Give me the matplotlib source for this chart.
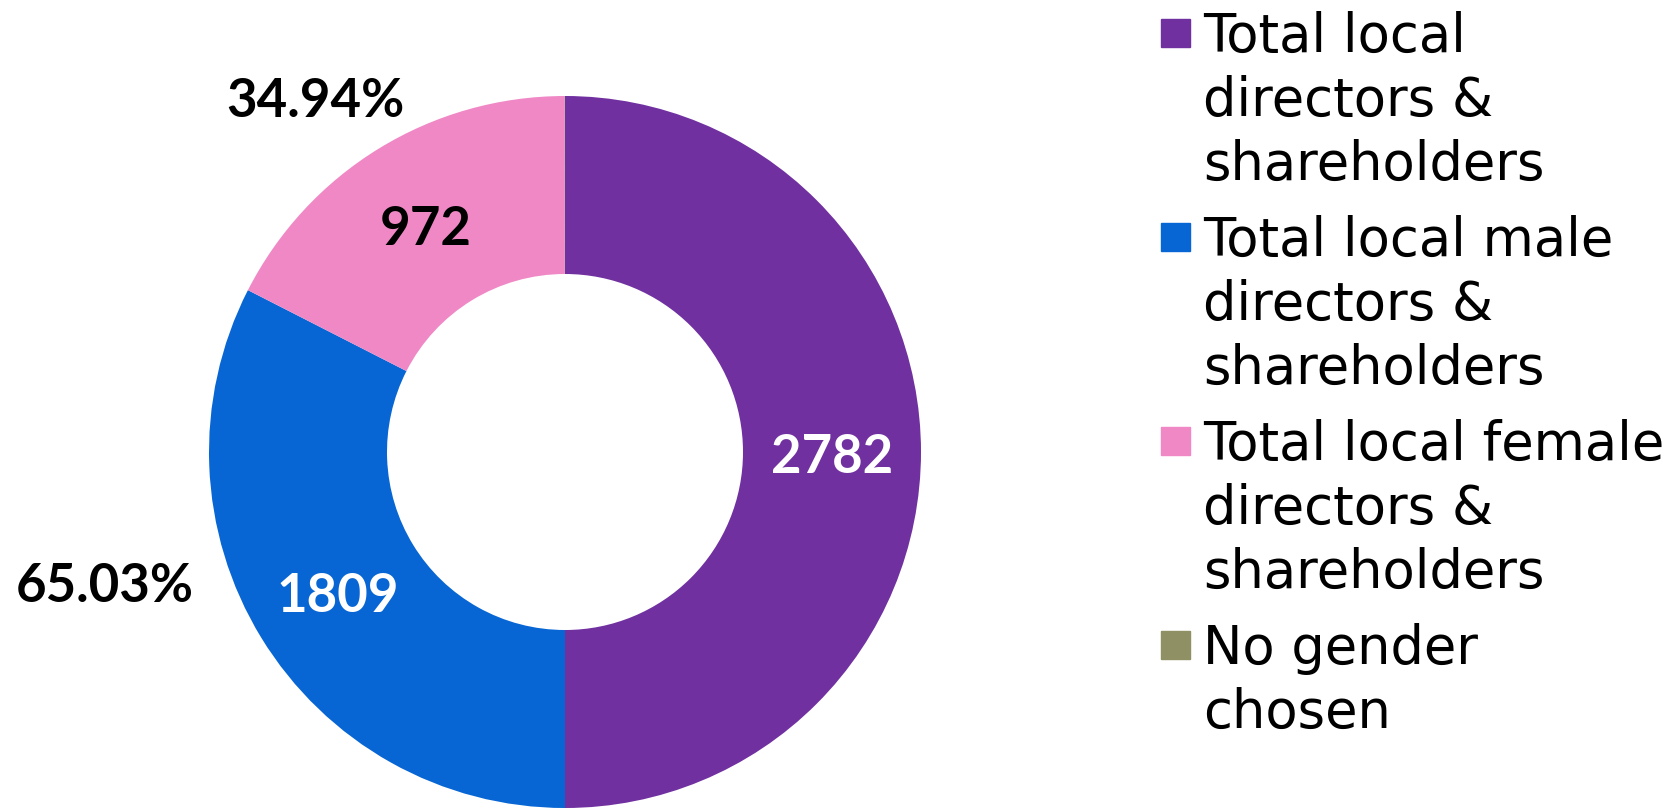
import numpy as np
import matplotlib
matplotlib.use('Agg')
import matplotlib.pyplot as plt
from matplotlib.patches import Rectangle

matplotlib.rc('font', family='DejaVu Sans')

categories = ['Total local\ndirectors &\nshareholders',
              'Total local male\ndirectors &\nshareholders',
              'Total local female\ndirectors &\nshareholders',
              'No gender\nchosen']
values = [2782, 1809, 972, 1]
colors = ['#7030A0', '#0766D3', '#F088C6', '#8F9064']
label_colors = ['white', 'white', 'black', 'black']

# share of male / female in the local total
pct_male = values[1] / values[0] * 100
pct_female = values[2] / values[0] * 100

W, H = 1681, 812
fig = plt.figure(figsize=(W / 100, H / 100), dpi=100)

# donut centre and radius in pixels
cx, cy, r = 565, 453, 356
ax = fig.add_axes([(cx - r) / W, (H - cy - r) / H, 2 * r / W, 2 * r / H])
total = sum(values)


def fmt(pct):
    v = int(round(pct * total / 100))
    return '%d' % v if v > 10 else ''


lab_font = dict(family='Lato', fontsize=38, fontweight='bold')

wedges, texts, autotexts = ax.pie(values, colors=colors, startangle=90,
                                  counterclock=False, radius=1,
                                  wedgeprops=dict(width=0.5, linewidth=0),
                                  autopct=fmt, pctdistance=0.75,
                                  textprops=lab_font)
for t, c in zip(autotexts, label_colors):
    t.set_color(c)
    t.set_va('center_baseline')
ax.set_xlim(-1, 1)
ax.set_ylim(-1, 1)
ax.set_aspect('equal')
ax.axis('off')

ax.text(-1.292, -0.362, '%.2f%%' % pct_male, ha='center', va='center_baseline',
        color='black', **lab_font)
ax.text(-0.702, 1.0, '%.2f%%' % pct_female, ha='center', va='center_baseline',
        color='black', **lab_font)

# legend drawn by hand so the marker lines up with the first line
for i, (lab, col) in enumerate(zip(categories, colors)):
    base = 52 + 204 * i
    fig.patches.append(Rectangle((1161 / W, 1 - (base - 4) / H), 29 / W, 28 / H,
                                 transform=fig.transFigure, color=col))
    for j, line in enumerate(lab.split('\n')):
        fig.text(1203 / W, 1 - (base + 64 * j) / H, line, fontsize=38,
                 ha='left', va='baseline', color='black')

plt.savefig('out.png', dpi=100)
